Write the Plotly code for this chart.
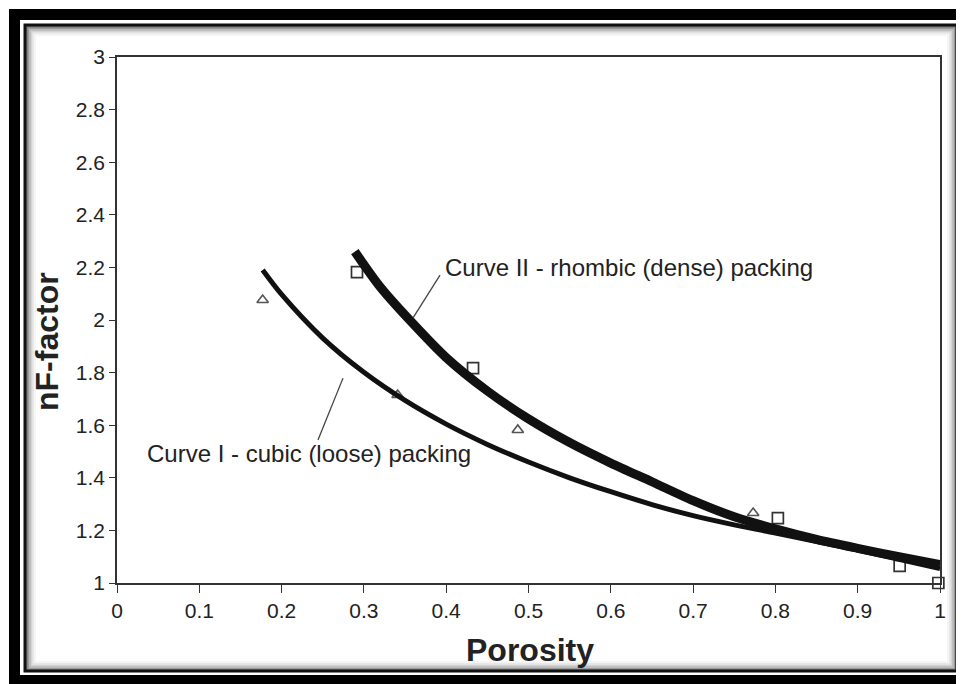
import plotly.graph_objects as go

# ---- data ----
curve1_x = [0.177, 0.20, 0.25, 0.30, 0.35, 0.40, 0.45, 0.50, 0.55, 0.60, 0.65, 0.70, 0.75, 0.80, 0.90, 1.00]
curve1_y = [2.19, 2.097, 1.931, 1.801, 1.694, 1.604, 1.527, 1.46, 1.40, 1.347, 1.298, 1.256, 1.221, 1.19, 1.125, 1.055]

curve2_x = [0.289, 0.32, 0.36, 0.40, 0.45, 0.50, 0.55, 0.60, 0.65, 0.70, 0.75, 0.80, 0.85, 0.90, 0.95, 1.00]
curve2_y = [2.26, 2.125, 1.985, 1.857, 1.73, 1.624, 1.534, 1.456, 1.385, 1.313, 1.252, 1.206, 1.166, 1.132, 1.10, 1.07]

tri_x = [0.177, 0.341, 0.487, 0.773]
tri_y = [2.076, 1.715, 1.582, 1.266]

sq_x = [0.2916, 0.4326, 0.803, 0.951, 0.998]
sq_y = [2.182, 1.817, 1.247, 1.065, 1.0]

x_ticks = [0, 0.1, 0.2, 0.3, 0.4, 0.5, 0.6, 0.7, 0.8, 0.9, 1]
y_ticks = [1, 1.2, 1.4, 1.6, 1.8, 2, 2.2, 2.4, 2.6, 2.8, 3]

label_1 = "Curve I - cubic (loose) packing"
label_2 = "Curve II - rhombic (dense) packing"

# page body has an 8px margin; work in reference-window pixels
OFF = 8
W, H = 964 - OFF, 684 - OFF
PLOT_X0, PLOT_X1, PLOT_Y0, PLOT_Y1 = 117, 940, 57, 583
L, T = PLOT_X0 - OFF, PLOT_Y0 - OFF
R, B = W - (PLOT_X1 - OFF), H - (PLOT_Y1 - OFF)
PW, PH = PLOT_X1 - PLOT_X0, PLOT_Y1 - PLOT_Y0


def px(X):
    return (X - PLOT_X0) / PW


def py(Y):
    return (PLOT_Y1 - Y) / PH


FONT = "Liberation Sans, Arial, sans-serif"

fig = go.Figure()

fig.add_trace(go.Scatter(
    x=tri_x, y=tri_y, mode="markers", cliponaxis=False, showlegend=False,
    marker=dict(symbol="triangle-up-open", size=10, color="#555",
                line=dict(width=1.6, color="#555"))))
fig.add_trace(go.Scatter(
    x=sq_x, y=sq_y, mode="markers", cliponaxis=False, showlegend=False,
    marker=dict(symbol="square-open", size=11, color="#333",
                line=dict(width=1.7, color="#333"))))
fig.add_trace(go.Scatter(
    x=curve1_x, y=curve1_y, mode="lines", showlegend=False,
    line=dict(shape="spline", smoothing=0.8, width=5, color="#111")))
fig.add_trace(go.Scatter(
    x=curve2_x, y=curve2_y, mode="lines", showlegend=False,
    line=dict(shape="spline", smoothing=0.8, width=9, color="#111")))

shapes = []
# outer black frame
shapes.append(dict(type="rect", xref="paper", yref="paper", layer="below",
                   x0=px(9), x1=px(975), y0=py(9), y1=py(695),
                   fillcolor="black", line=dict(width=0)))
shapes.append(dict(type="rect", xref="paper", yref="paper", layer="below",
                   x0=px(20), x1=px(960), y0=py(20), y1=py(675),
                   fillcolor="white", line=dict(width=0)))
# shadow gradient inside inner frame
for i, c in enumerate(["#777", "#999", "#b8b8b8", "#d4d4d4", "#e8e8e8", "#f5f5f5"]):
    d = 27 + i * 1.6
    shapes.append(dict(type="rect", xref="paper", yref="paper", layer="below",
                       x0=px(d), x1=px(956 - i * 1.6), y0=py(d), y1=py(670 - i * 1.6),
                       line=dict(width=2, color=c)))
# inner thin frame
shapes.append(dict(type="rect", xref="paper", yref="paper", layer="below",
                   x0=px(25), x1=px(957), y0=py(25), y1=py(671),
                   line=dict(width=3, color="#111")))
# leader lines
shapes.append(dict(type="line", xref="x", yref="y", x0=0.3925, y0=2.171, x1=0.3597, y1=2.008,
                   line=dict(width=1.3, color="#444")))
shapes.append(dict(type="line", xref="x", yref="y", x0=0.2746, y0=1.779, x1=0.2442, y1=1.544,
                   line=dict(width=1.3, color="#444")))

annotations = [
    dict(x=0.396, y=2.198, xref="x", yref="y", text=label_2, showarrow=False,
         xanchor="left", yanchor="middle", font=dict(family=FONT, size=24, color="#222")),
    dict(x=0.034, y=1.494, xref="x", yref="y", text=label_1, showarrow=False,
         xanchor="left", yanchor="middle", font=dict(family=FONT, size=24, color="#222")),
    dict(x=px(530), y=py(650), xref="paper", yref="paper", text="<b>Porosity</b>",
         showarrow=False, xanchor="center", yanchor="middle",
         font=dict(family=FONT, size=32, color="#222")),
    dict(x=px(47), y=py(342), xref="paper", yref="paper", text="<b>nF-factor</b>",
         showarrow=False, xanchor="center", yanchor="middle", textangle=-90,
         font=dict(family=FONT, size=32, color="#222")),
]

fig.update_layout(
    width=W, height=H,
    margin=dict(l=L, r=R, t=T, b=B, autoexpand=False),
    paper_bgcolor="white", plot_bgcolor="white",
    shapes=shapes, annotations=annotations,
    font=dict(family=FONT, color="#222"),
)
fig.update_xaxes(range=[0, 1], tickvals=x_ticks, ticktext=[str(v) for v in x_ticks],
                 showgrid=False, zeroline=False, showline=True, linecolor="#333",
                 linewidth=1.5, mirror=True, ticks="outside", ticklen=8, tickwidth=1.3,
                 tickcolor="#333", tickfont=dict(family=FONT, size=21, color="#222"),
                 automargin=False)
fig.update_yaxes(range=[1, 3], tickvals=y_ticks, ticktext=[f"{v:g}" for v in y_ticks],
                 showgrid=False, zeroline=False, showline=True, linecolor="#333",
                 linewidth=1.5, mirror=True, ticks="outside", ticklen=6, tickwidth=1.3,
                 tickcolor="#333", tickfont=dict(family=FONT, size=21, color="#222"),
                 automargin=False)

fig.write_html("out.html")
